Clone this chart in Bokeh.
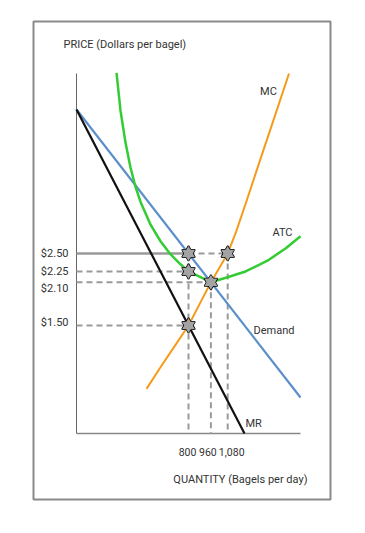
from bokeh.plotting import figure
from bokeh.models import ColumnDataSource, Range1d
from bokeh.core.properties import value
from bokeh.embed import file_html
from bokeh.resources import INLINE

# ---------------- data ----------------
demand_q = [0, 1600]
demand_p = [4.50, 0.50]

mr_q = [0, 1200]
mr_p = [4.50, 0.00]

mc_q = [500, 600, 700, 800, 880, 960, 1020, 1080, 1140, 1220, 1300, 1400, 1518]
mc_p = [0.62, 0.92, 1.21, 1.50, 1.80, 2.10, 2.30, 2.50, 2.80, 3.26, 3.73, 4.31, 5.00]

atc_q = [286, 314, 350, 386, 421, 457, 529, 600, 671, 743, 800, 886, 960,
         1079, 1207, 1364, 1493, 1600]
atc_p = [5.01, 4.49, 4.04, 3.69, 3.43, 3.22, 2.90, 2.67, 2.49, 2.35, 2.25, 2.17, 2.10,
         2.17, 2.25, 2.40, 2.57, 2.74]

star_q = [800, 1080, 800, 960, 800]
star_p = [2.50, 2.50, 2.25, 2.10, 1.50]

price_ticks = [2.50, 2.25, 2.10, 1.50]
price_labels = ["$2.50", "$2.25", "$2.10", "$1.50"]
price_label_shift = [0, 0, 6, -3]

qty_ticks = [800, 960, 1080]
qty_labels = ["800", "960", "1,080"]
qty_label_shift = [-1, -3, 4]

axis_q_max = 1600
axis_p_max = 5.0

curve_names = ["MC", "ATC", "Demand", "MR"]
curve_label_q = [1371, 1471, 1264, 1207]
curve_label_p = [4.75, 2.79, 1.43, 0.14]
curve_label_align = ["center", "center", "left", "left"]

# ---------------- figure ----------------
FONT = value("Roboto")
FS = "11px"

p = figure(width=340, height=509, output_backend="svg", toolbar_location=None,
           x_range=Range1d(-307.1, 1814.3), y_range=Range1d(-0.917, 5.722),
           x_axis_location=None, y_axis_location=None,
           min_border_left=33, min_border_top=21, min_border_right=10, min_border_bottom=10)
p.grid.visible = False
p.outline_line_color = "#8a8a8a"
p.outline_line_width = 2
p.background_fill_color = "white"
p.border_fill_color = "white"

GRAY = "#9a9a9a"
DASH = "6 4"

# axes drawn as lines
p.segment(x0=[0], y0=[0], x1=[0], y1=[axis_p_max], line_color="#666666", line_width=1)
p.segment(x0=[0], y0=[0], x1=[axis_q_max], y1=[0], line_color="#888888", line_width=1.5)

# guide lines
p_mono = star_p[0]
q_mono = star_q[0]
q_mc = star_q[1]
p_atc = star_p[2]
q_eff, p_eff = star_q[3], star_p[3]
p_mr = star_p[4]

p.segment(x0=[0], y0=[p_mono], x1=[q_mono], y1=[p_mono], line_color=GRAY, line_width=2.5)
p.segment(x0=[q_mono, 0, 0, 0], y0=[p_mono, p_atc, p_eff, p_mr],
          x1=[q_mc, q_mono, q_eff, q_mono], y1=[p_mono, p_atc, p_eff, p_mr],
          line_color=GRAY, line_width=2, line_dash=DASH)
p.segment(x0=[q_mono, q_eff, q_mc], y0=[p_mono, p_eff, p_mono],
          x1=[q_mono, q_eff, q_mc], y1=[0, 0, 0],
          line_color=GRAY, line_width=2, line_dash=DASH)

# curves
p.line(demand_q, demand_p, line_color="#5b8fc9", line_width=2.2)
p.line(mr_q, mr_p, line_color="#111111", line_width=2.2)
p.line(atc_q, atc_p, line_color="#33cc33", line_width=2.5, line_join="round")
p.line(mc_q, mc_p, line_color="#f59b1c", line_width=2, line_join="round")

# six-pointed star markers
sp = ColumnDataSource(dict(q=star_q, p=star_p))
for m in ("triangle", "inverted_triangle"):
    p.scatter("q", "p", source=sp, marker=m, size=13, fill_color="#a3a3a3",
              line_color="black", line_width=1.5)
for m in ("triangle", "inverted_triangle"):
    p.scatter("q", "p", source=sp, marker=m, size=13, fill_color="#a3a3a3",
              line_color=None)

# tick labels
p.text(x=[0] * len(price_ticks), y=price_ticks, text=price_labels,
       x_offset=-8, y_offset=price_label_shift,
       text_align="right", text_baseline="middle", text_font=FONT,
       text_font_size=FS, text_color="#333333")
p.text(x=qty_ticks, y=[0] * len(qty_ticks), text=qty_labels,
       x_offset=qty_label_shift, y_offset=19,
       text_align="center", text_baseline="middle", text_font=FONT,
       text_font_size="10.5px", text_color="#333333")

# curve labels
p.text(x=curve_label_q, y=curve_label_p, text=curve_names, text_align=curve_label_align,
       text_baseline="middle", text_font=FONT, text_font_size=FS, text_color="#333333")

# axis titles
p.text(x=[-93], y=[5.40], text=["PRICE (Dollars per bagel)"], text_align="left",
       text_baseline="middle", text_font=FONT, text_font_size=FS, text_color="#333333")
p.text(x=[1171], y=[-0.64], text=["QUANTITY (Bagels per day)"], text_align="center",
       text_baseline="middle", text_font=FONT, text_font_size=FS, text_color="#333333")

open("out.html", "w").write(file_html(p, INLINE))
